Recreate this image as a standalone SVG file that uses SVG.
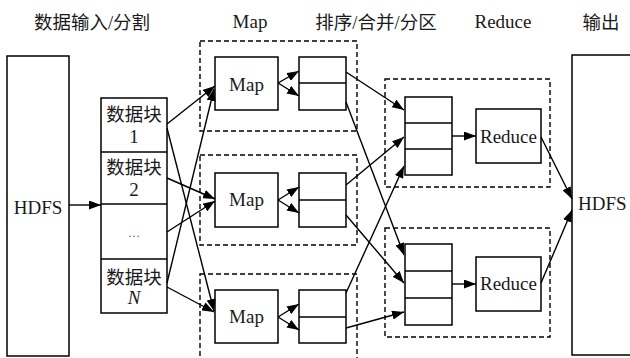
<svg xmlns="http://www.w3.org/2000/svg" width="630" height="358" viewBox="0 0 630 358">
  <style>
    .box { fill: #ffffff; stroke: #000; stroke-width: 1.5; }
    .grp { fill: none; stroke: #000; stroke-width: 1.4; stroke-dasharray: 5 3; }
    .div { stroke: #000; stroke-width: 1.5; }
    .ln { fill: none; stroke: #000; stroke-width: 1.4; marker-end: url(#ah); }
    .t { font-family: "Liberation Serif", "Times New Roman", serif; font-size: 19px; fill: #1a1a1a; text-anchor: middle; }
    .cjk { font-family: "Liberation Serif", "Noto Sans CJK SC", serif; font-size: 18.5px; fill: #1a1a1a; text-anchor: middle; }
  </style>
  <defs>
    <marker id="ah" markerWidth="12" markerHeight="9" refX="12" refY="4.5" orient="auto" markerUnits="userSpaceOnUse">
      <path d="M0,0 L12,4.5 L0,9 z" fill="#000"/>
    </marker>
  </defs>
  <rect width="630" height="358" fill="#ffffff"/>

  <!-- column headings -->
  <g id="headings">
    <text class="cjk" x="92" y="29">数据输入/分割</text>
    <text class="t" x="250" y="28">Map</text>
    <text class="cjk" x="376" y="29">排序/合并/分区</text>
    <text class="t" x="503" y="28">Reduce</text>
    <text class="cjk" x="601" y="29">输出</text>
  </g>

  <!-- dashed stage groups -->
  <g id="groups">
    <rect class="grp" x="200" y="41" width="157" height="90"/>
    <rect class="grp" x="200" y="155" width="157" height="90"/>
    <rect class="grp" x="200" y="274" width="157" height="100"/>
    <rect class="grp" x="385" y="79" width="165" height="108"/>
    <rect class="grp" x="385" y="228" width="165" height="109"/>
  </g>

  <!-- input store -->
  <g id="hdfs-in">
    <rect class="box" x="7" y="56" width="62" height="300"/>
    <text class="t" x="38" y="214">HDFS</text>
  </g>

  <!-- input splits -->
  <g id="splits">
    <rect class="box" x="101" y="98" width="66" height="215"/>
    <line class="div" x1="101" y1="152" x2="167" y2="152"/>
    <line class="div" x1="101" y1="204" x2="167" y2="204"/>
    <line class="div" x1="101" y1="259" x2="167" y2="259"/>
    <text class="cjk" x="134" y="121">数据块</text>
    <text class="t" x="134" y="143">1</text>
    <text class="cjk" x="134" y="174">数据块</text>
    <text class="t" x="134" y="196">2</text>
    <text class="t" x="134" y="237" style="font-size:12px;fill:#555">…</text>
    <text class="cjk" x="134" y="284">数据块</text>
    <text class="t" x="134" y="304" font-style="italic">N</text>
  </g>

  <!-- map tasks -->
  <g id="map1">
    <rect class="box" x="215" y="57" width="63" height="53"/>
    <text class="t" x="246.5" y="91">Map</text>
  </g>
  <g id="map2">
    <rect class="box" x="215" y="173" width="63" height="54"/>
    <text class="t" x="246.5" y="206">Map</text>
  </g>
  <g id="map3">
    <rect class="box" x="215" y="290" width="63" height="53"/>
    <text class="t" x="246.5" y="323">Map</text>
  </g>

  <!-- sort / spill buffers -->
  <g id="sort1">
    <rect class="box" x="299" y="57" width="47" height="53"/>
    <line class="div" x1="299" y1="83" x2="346" y2="83"/>
  </g>
  <g id="sort2">
    <rect class="box" x="299" y="173" width="47" height="54"/>
    <line class="div" x1="299" y1="200" x2="346" y2="200"/>
  </g>
  <g id="sort3">
    <rect class="box" x="299" y="290" width="47" height="53"/>
    <line class="div" x1="299" y1="317" x2="346" y2="317"/>
  </g>

  <!-- merged partitions -->
  <g id="part1">
    <rect class="box" x="405" y="97" width="47" height="78"/>
    <line class="div" x1="405" y1="123" x2="452" y2="123"/>
    <line class="div" x1="405" y1="149" x2="452" y2="149"/>
  </g>
  <g id="part2">
    <rect class="box" x="405" y="244" width="47" height="81"/>
    <line class="div" x1="405" y1="271" x2="452" y2="271"/>
    <line class="div" x1="405" y1="298" x2="452" y2="298"/>
  </g>

  <!-- reduce tasks -->
  <g id="reduce1">
    <rect class="box" x="476" y="109" width="65" height="54"/>
    <text class="t" x="508.5" y="143">Reduce</text>
  </g>
  <g id="reduce2">
    <rect class="box" x="476" y="257" width="65" height="54"/>
    <text class="t" x="508.5" y="290">Reduce</text>
  </g>

  <!-- output store -->
  <g id="hdfs-out">
    <rect class="box" x="572" y="55" width="70" height="300"/>
    <text class="t" x="578" y="210" style="text-anchor:start">HDFS</text>
  </g>

  <!-- connectors -->
  <g id="connectors">
    <line class="ln" x1="69" y1="205" x2="101" y2="205"/>

    <line class="ln" x1="167" y1="124" x2="215" y2="86"/>
    <line class="ln" x1="167" y1="283" x2="214" y2="89"/>
    <line class="ln" x1="167" y1="128" x2="214" y2="311"/>
    <line class="ln" x1="167" y1="178" x2="215" y2="199"/>
    <line class="ln" x1="167" y1="232" x2="215" y2="201"/>
    <line class="ln" x1="167" y1="287" x2="214" y2="312"/>

    <line class="ln" x1="278" y1="83" x2="299" y2="71"/>
    <line class="ln" x1="278" y1="83" x2="299" y2="96"/>
    <line class="ln" x1="278" y1="200" x2="299" y2="187"/>
    <line class="ln" x1="278" y1="200" x2="299" y2="213"/>
    <line class="ln" x1="278" y1="317" x2="299" y2="304"/>
    <line class="ln" x1="278" y1="317" x2="299" y2="330"/>

    <line class="ln" x1="346" y1="72" x2="404" y2="110"/>
    <line class="ln" x1="346" y1="102" x2="404" y2="255"/>
    <line class="ln" x1="346" y1="185" x2="404" y2="137"/>
    <line class="ln" x1="346" y1="215" x2="404" y2="283"/>
    <line class="ln" x1="346" y1="293" x2="404" y2="166"/>
    <line class="ln" x1="346" y1="328" x2="404" y2="312"/>

    <line class="ln" x1="452" y1="136" x2="476" y2="136"/>
    <line class="ln" x1="452" y1="284" x2="476" y2="284"/>

    <line class="ln" x1="541" y1="137" x2="572" y2="199"/>
    <line class="ln" x1="541" y1="283" x2="572" y2="210"/>
  </g>
</svg>
